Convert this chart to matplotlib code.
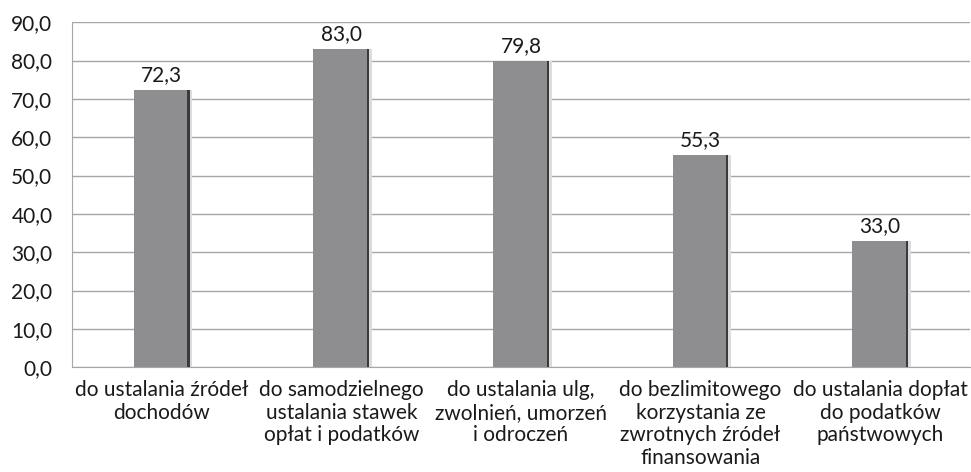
import matplotlib
matplotlib.use("Agg")
import matplotlib.pyplot as plt
import numpy as np

categories = ["do ustalania źródeł\ndochodów",
              "do samodzielnego\nustalania stawek\nopłat i podatków",
              "do ustalania ulg,\nzwolnień, umorzeń\ni odroczeń",
              "do bezlimitowego\nkorzystania ze\nzwrotnych źródeł\nfinansowania",
              "do ustalania dopłat\ndo podatków\npaństwowych"]
values = [72.3, 83.0, 79.8, 55.3, 33.0]
yticks = [0, 10, 20, 30, 40, 50, 60, 70, 80, 90]

plt.rcParams['font.family'] = ['Lato', 'DejaVu Sans']
FS = 15

fig = plt.figure(figsize=(9.71, 4.72), dpi=100)
ax = fig.add_axes([0.074, 0.222, 0.925, 0.731])

x = np.arange(len(categories))
w = 0.31
ax.bar(x, values, width=w, color='#8e8e90', edgecolor='none', zorder=3)
# dark right edge / soft shadow
ax.bar(x + w/2 - 0.006, values, width=0.012, color='#3a3a3c', edgecolor='none', zorder=4)
ax.bar(x + w/2 + 0.008, values, width=0.016, color='#dcdcdc', edgecolor='none', zorder=2)

for xi, v in zip(x, values):
    ax.text(xi, v + 1.3, f"{v:.1f}".replace('.', ','), ha='center', va='bottom',
            fontsize=FS, color='#1a1a1a')

ax.set_xlim(-0.5, len(categories) - 0.5)
ax.set_ylim(0, 90)
ax.set_yticks(yticks)
ax.set_yticklabels([f"{t:.1f}".replace('.', ',') for t in yticks], fontsize=FS, color='#1a1a1a')
ax.set_xticks(x)
ax.set_xticklabels(categories, fontsize=FS, color='#1a1a1a', linespacing=1.18, va='top')
ax.tick_params(axis='y', length=0, pad=14)
ax.tick_params(axis='x', length=0, pad=9)
ax.grid(axis='y', color='#a6a6a6', linewidth=1, zorder=0)
for s in ['top', 'right']:
    ax.spines[s].set_visible(False)
ax.spines['left'].set_color('#a6a6a6')
ax.spines['bottom'].set_color('#a6a6a6')

fig.savefig('out.png', dpi=100)
